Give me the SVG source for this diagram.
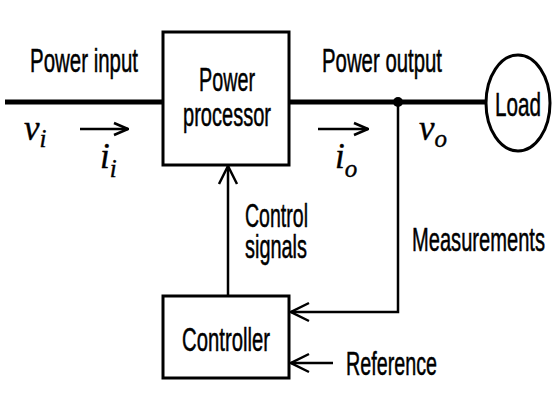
<svg xmlns="http://www.w3.org/2000/svg" width="560" height="403" viewBox="0 0 560 403">
<defs>
<style>
.t{font-family:"Liberation Sans Narrow","Liberation Sans",Arial,sans-serif;font-size:33px;fill:#000;stroke:#000;stroke-width:0.5}
.m{font-family:"Liberation Serif","Times New Roman",serif;font-style:italic;font-size:35px;fill:#000;stroke:#000;stroke-width:0.4}
.s{font-family:"Liberation Serif","Times New Roman",serif;font-style:italic;font-size:25px;fill:#000}
.box{fill:#fff;stroke:#000;stroke-width:3}
.bus{stroke:#000;stroke-width:5;fill:none}
.sig{stroke:#000;stroke-width:2.5;fill:none}
</style>
<marker id="ah" viewBox="0 0 22 22" refX="20" refY="11" markerWidth="22" markerHeight="22" markerUnits="userSpaceOnUse" orient="auto">
<path d="M2,2 L20,11 L2,20" fill="none" stroke="#000" stroke-width="2.5"/>
</marker>
<marker id="as" viewBox="0 0 16 16" refX="15" refY="8" markerWidth="16" markerHeight="16" markerUnits="userSpaceOnUse" orient="auto">
<path d="M1,2 L15,8 L1,14" fill="none" stroke="#000" stroke-width="2.5"/>
</marker>
</defs>
<rect width="560" height="403" fill="#fff"/>
<g id="connectors">
<line class="bus" x1="5" y1="102" x2="163" y2="102"/>
<line class="bus" x1="290" y1="102" x2="486" y2="102"/>
<circle cx="398" cy="102" r="5" fill="#000"/>
<polyline class="sig" points="398,102 398,312 291,312" marker-end="url(#ah)"/>
<line class="sig" x1="228" y1="296" x2="228" y2="166" marker-end="url(#ah)"/>
<line class="sig" x1="333" y1="363" x2="291" y2="363" marker-end="url(#ah)"/>
<line class="sig" x1="80" y1="129" x2="128" y2="129" marker-end="url(#as)"/>
<line class="sig" x1="318" y1="129" x2="368" y2="129" marker-end="url(#as)"/>
</g>
<g id="power-processor">
<rect class="box" x="163" y="32" width="126" height="133"/>
<text class="t" x="227" y="91" text-anchor="middle" textLength="56" lengthAdjust="spacingAndGlyphs">Power</text>
<text class="t" x="227" y="126" text-anchor="middle" textLength="88" lengthAdjust="spacingAndGlyphs">processor</text>
</g>
<g id="load">
<ellipse cx="518" cy="103" rx="32" ry="48" fill="#fff" stroke="#000" stroke-width="3"/>
<text class="t" x="518" y="116" text-anchor="middle" textLength="46" lengthAdjust="spacingAndGlyphs">Load</text>
</g>
<g id="controller">
<rect class="box" x="163" y="296" width="126" height="82"/>
<text class="t" x="226" y="351" text-anchor="middle" textLength="88" lengthAdjust="spacingAndGlyphs">Controller</text>
</g>
<g id="labels">
<text class="t" x="30" y="72" textLength="108" lengthAdjust="spacingAndGlyphs">Power input</text>
<text class="t" x="322" y="72" textLength="120" lengthAdjust="spacingAndGlyphs">Power output</text>
<text class="t" x="245" y="227" textLength="63" lengthAdjust="spacingAndGlyphs">Control</text>
<text class="t" x="245" y="258" textLength="62" lengthAdjust="spacingAndGlyphs">signals</text>
<text class="t" x="412" y="251" textLength="133" lengthAdjust="spacingAndGlyphs">Measurements</text>
<text class="t" x="346" y="375" textLength="91" lengthAdjust="spacingAndGlyphs">Reference</text>
<text class="m" x="24" y="140">v<tspan class="s" dy="7">i</tspan></text>
<text class="m" x="100" y="168">i<tspan class="s" dy="9">i</tspan></text>
<text class="m" x="335" y="168">i<tspan class="s" dy="9">o</tspan></text>
<text class="m" x="419" y="140">v<tspan class="s" dy="7">o</tspan></text>
</g>
</svg>
